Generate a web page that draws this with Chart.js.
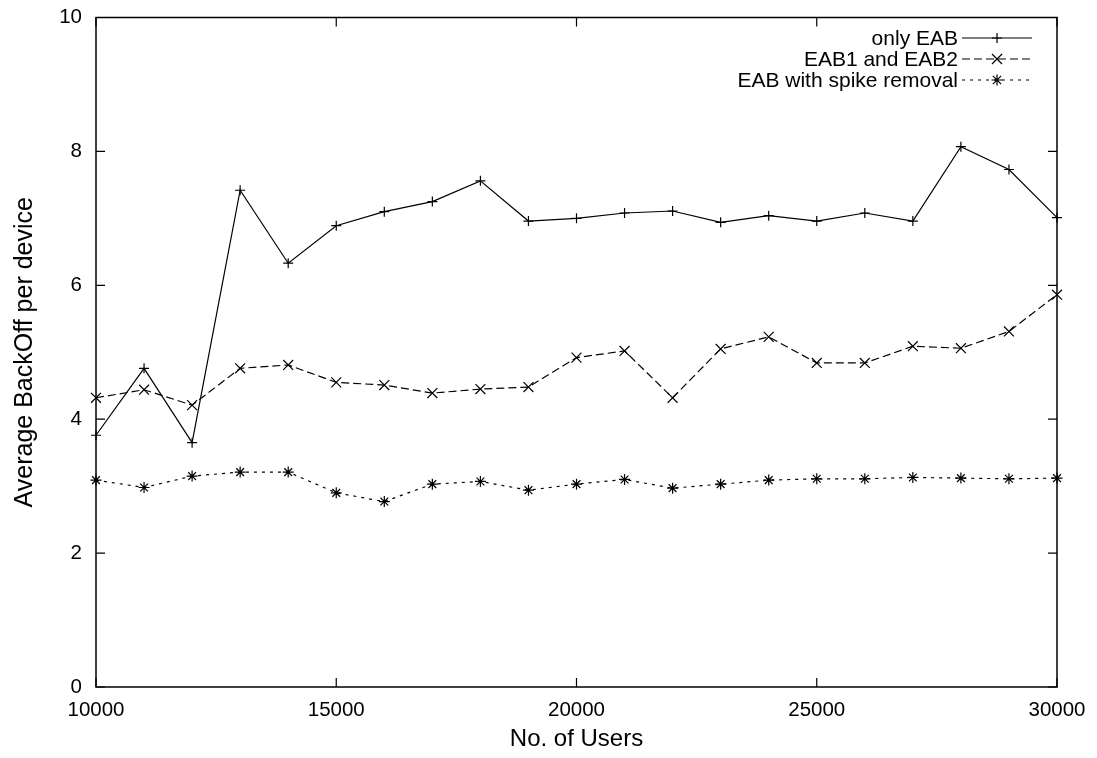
<!DOCTYPE html>
<html>
<head>
<meta charset="utf-8">
<title>Average BackOff per device</title>
<script src="https://cdn.jsdelivr.net/npm/chart.js@4.4.1/dist/chart.umd.min.js"></script>
<style>
    body { margin: 0; background: #fff; }
    #wrap { width: 1097px; height: 758px; }
</style>
</head>
<body>
<div id="wrap"><canvas id="backoffChart" width="1097" height="758"></canvas></div>
<script>
// data
const users = [10000, 11000, 12000, 13000, 14000, 15000, 16000, 17000, 18000, 19000, 20000,
               21000, 22000, 23000, 24000, 25000, 26000, 27000, 28000, 29000, 30000];
const onlyEAB = [3.76, 4.76, 3.65, 7.42, 6.33, 6.89, 7.10, 7.25, 7.56, 6.96, 7.00,
                 7.08, 7.11, 6.94, 7.04, 6.96, 7.08, 6.96, 8.07, 7.73, 7.01];
const eab1eab2 = [4.32, 4.44, 4.21, 4.76, 4.81, 4.55, 4.51, 4.39, 4.45, 4.48, 4.92,
                  5.02, 4.32, 5.05, 5.23, 4.84, 4.84, 5.09, 5.06, 5.31, 5.86];
const spikeRemoval = [3.09, 2.98, 3.15, 3.21, 3.21, 2.90, 2.77, 3.03, 3.07, 2.94, 3.03,
                      3.10, 2.97, 3.03, 3.09, 3.11, 3.11, 3.13, 3.12, 3.11, 3.12];
const seriesNames = ['only EAB', 'EAB1 and EAB2', 'EAB with spike removal'];
const xTicks = [10000, 15000, 20000, 25000, 30000];
const yTicks = [0, 2, 4, 6, 8, 10];

const FONT = '"Liberation Sans", Arial, Helvetica, sans-serif';

function toPoints(values) {
    return values.map((v, i) => ({ x: users[i], y: v }));
}

function markPoint(ctx, style, x, y, r) {
    ctx.beginPath();
    if (style === 'cross' || style === 'star') {
        ctx.moveTo(x - r, y); ctx.lineTo(x + r, y);
        ctx.moveTo(x, y - r); ctx.lineTo(x, y + r);
    }
    if (style === 'crossRot' || style === 'star') {
        const d = style === 'star' ? r * 0.75 : r * 0.72;
        ctx.moveTo(x - d, y - d); ctx.lineTo(x + d, y + d);
        ctx.moveTo(x - d, y + d); ctx.lineTo(x + d, y - d);
    }
    ctx.stroke();
}

// gnuplot-like frame with inward ticks on all four sides
const framePlugin = {
    id: 'frame',
    afterDatasetsDraw(chart) {
        const { ctx, chartArea: a, scales } = chart;
        const len = 9;
        ctx.save();
        ctx.strokeStyle = '#000';
        ctx.lineWidth = 1.5;
        ctx.strokeRect(a.left, a.top, a.right - a.left, a.bottom - a.top);
        ctx.lineWidth = 1.2;
        ctx.beginPath();
        xTicks.forEach(v => {
            const px = scales.x.getPixelForValue(v);
            ctx.moveTo(px, a.bottom); ctx.lineTo(px, a.bottom - len);
            ctx.moveTo(px, a.top); ctx.lineTo(px, a.top + len);
        });
        yTicks.forEach(v => {
            const py = scales.y.getPixelForValue(v);
            ctx.moveTo(a.left, py); ctx.lineTo(a.left + len, py);
            ctx.moveTo(a.right, py); ctx.lineTo(a.right - len, py);
        });
        ctx.stroke();
        ctx.restore();
    }
};

// key in the top right corner, text right-aligned, sample on the right
const keyPlugin = {
    id: 'key',
    afterDraw(chart) {
        const { ctx, chartArea: a } = chart;
        const lineEnd = a.right - 25;
        const lineStart = lineEnd - 70;
        const textRight = lineStart - 4;
        ctx.save();
        ctx.font = '21px ' + FONT;
        ctx.fillStyle = '#000';
        ctx.textAlign = 'right';
        ctx.textBaseline = 'middle';
        chart.data.datasets.forEach((ds, i) => {
            const y = a.top + 20.5 + i * 21;
            ctx.fillText(ds.label, textRight, y + 1);
            ctx.strokeStyle = '#000';
            ctx.lineWidth = ds.borderWidth;
            ctx.setLineDash(ds.borderDash || []);
            ctx.beginPath();
            ctx.moveTo(lineStart, y); ctx.lineTo(lineEnd, y);
            ctx.stroke();
            ctx.setLineDash([]);
            markPoint(ctx, ds.pointStyle, (lineStart + lineEnd) / 2, y, ds.pointRadius);
        });
        ctx.restore();
    }
};

function makeSet(label, values, dash, style, radius) {
    return {
        label: label,
        data: toPoints(values),
        borderColor: '#000',
        backgroundColor: '#000',
        borderWidth: 1.2,
        borderDash: dash,
        pointStyle: style,
        pointRadius: radius,
        pointBorderColor: '#000',
        pointBorderWidth: 1.2,
        fill: false,
        tension: 0,
        clip: false
    };
}

const ctx = document.getElementById('backoffChart').getContext('2d');
new Chart(ctx, {
    type: 'line',
    data: {
        datasets: [
            makeSet(seriesNames[0], onlyEAB, [], 'cross', 5),
            makeSet(seriesNames[1], eab1eab2, [8, 4], 'crossRot', 7),
            makeSet(seriesNames[2], spikeRemoval, [3, 5], 'star', 5.5)
        ]
    },
    options: {
        responsive: false,
        animation: false,
        events: [],
        layout: { padding: { top: 17.5, right: 40, left: 0, bottom: 0 } },
        plugins: {
            legend: { display: false },
            tooltip: { enabled: false }
        },
        scales: {
            x: {
                type: 'linear',
                min: 10000,
                max: 30000,
                afterBuildTicks: scale => { scale.ticks = xTicks.map(v => ({ value: v })); },
                afterFit: scale => { scale.height = 71; },
                grid: { display: false, drawTicks: false },
                border: { display: false },
                ticks: {
                    padding: 11,
                    color: '#000',
                    maxRotation: 0,
                    font: { family: FONT, size: 20.5 },
                    callback: v => String(v)
                },
                title: {
                    display: true,
                    text: 'No. of Users',
                    color: '#000',
                    font: { family: FONT, size: 24 },
                    padding: { top: 0, bottom: 4 }
                }
            },
            y: {
                type: 'linear',
                min: 0,
                max: 10,
                afterBuildTicks: scale => { scale.ticks = yTicks.map(v => ({ value: v })); },
                afterFit: scale => {
                    scale.width = 96;
                    // keep the label overhang from pushing the plot area down
                    scale.paddingTop = 0;
                    scale.paddingBottom = 0;
                },
                grid: { display: false, drawTicks: false },
                border: { display: false },
                ticks: {
                    padding: 14,
                    color: '#000',
                    font: { family: FONT, size: 20.5 },
                    callback: v => String(v)
                },
                title: {
                    display: true,
                    text: 'Average BackOff per device',
                    color: '#000',
                    font: { family: FONT, size: 25 },
                    padding: { top: 10, bottom: 0 }
                }
            }
        }
    },
    plugins: [framePlugin, keyPlugin]
});
</script>
</body>
</html>
